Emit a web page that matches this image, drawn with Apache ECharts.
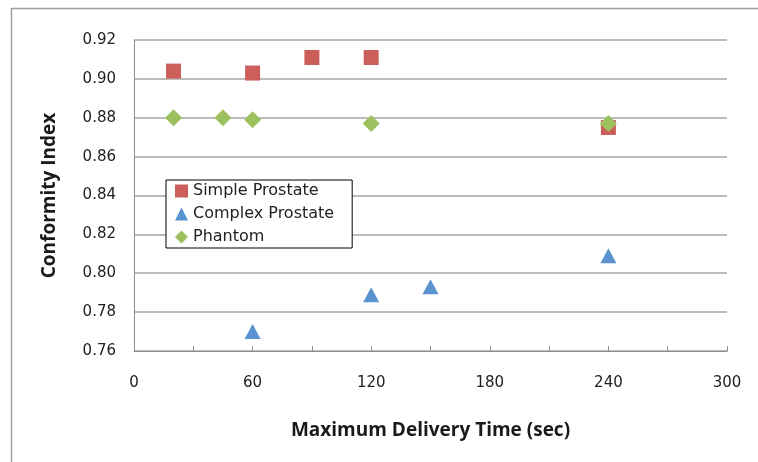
<!DOCTYPE html>
<html>
<head>
<meta charset="utf-8">
<script src="https://cdn.jsdelivr.net/npm/echarts@6/dist/echarts.min.js"></script>
<style>
  html, body { margin: 0; padding: 0; background: #fff; }
  #chart { width: 758px; height: 462px; }
</style>
</head>
<body>
<div id="chart"></div>
<script>
// Conformity index versus maximum delivery time, one series per plan type
const simpleProstateTimes  = [20, 60, 90, 120, 240];
const simpleProstateCI     = [0.904, 0.903, 0.911, 0.911, 0.875];

const complexProstateTimes = [60, 120, 150, 240];
const complexProstateCI    = [0.770, 0.789, 0.793, 0.809];

const phantomTimes         = [20, 45, 60, 120, 240];
const phantomCI            = [0.880, 0.880, 0.879, 0.877, 0.877];

const seriesNames = ['Simple Prostate', 'Complex Prostate', 'Phantom'];
const yTicks = [0.76, 0.78, 0.80, 0.82, 0.84, 0.86, 0.88, 0.90, 0.92];
const xLabelStep = 60;

const pairs = (xs, ys) => xs.map((x, i) => [x, ys[i]]);

const colors = ['#CC5F5A', '#5A93CF', '#9DC05E'];
const symbols = ['rect', 'triangle', 'diamond'];
const symbolSizes = [[15, 15], [16, 15], [17, 17]];

const chart = echarts.init(document.getElementById('chart'), null, { renderer: 'canvas' });

chart.setOption({
  animation: false,
  backgroundColor: '#ffffff',
  graphic: [{
    type: 'rect',
    shape: { x: 11.5, y: 8.5, width: 900, height: 600 },
    style: { fill: 'none', stroke: '#A0A0A0', lineWidth: 1.5 },
    silent: true,
    z: -1
  }],
  grid: { left: 134, top: 40, right: 31, bottom: 111, containLabel: false },
  legend: {
    orient: 'vertical',
    left: 166,
    top: 180,
    backgroundColor: '#ffffff',
    borderColor: '#000000',
    borderWidth: 1,
    borderRadius: 0,
    padding: [3, 18, 3, 9],
    itemGap: 7,
    itemWidth: 13,
    itemHeight: 13,
    textStyle: { fontFamily: 'DejaVu Sans', fontSize: 16, color: '#222', lineHeight: 16 },
    data: seriesNames.map((n, i) => ({ name: n, icon: symbols[i] }))
  },
  xAxis: {
    type: 'value',
    min: 0,
    max: 300,
    interval: 30,
    name: 'Maximum Delivery Time (sec)',
    nameLocation: 'middle',
    nameGap: 70,
    nameTextStyle: { fontFamily: 'Open Sans', fontWeight: 'bold', fontSize: 19, color: '#1a1a1a' },
    axisLine: { show: true, lineStyle: { color: '#8C8C8C', width: 1 } },
    axisTick: { show: true, inside: true, length: 5, lineStyle: { color: '#8C8C8C' } },
    axisLabel: {
      margin: 25,
      fontFamily: 'DejaVu Sans',
      fontSize: 15,
      color: '#222',
      formatter: v => (v % xLabelStep === 0 ? String(v) : '')
    },
    splitLine: { show: false }
  },
  yAxis: {
    type: 'value',
    min: yTicks[0],
    max: yTicks[yTicks.length - 1],
    interval: 0.02,
    name: 'Conformity Index',
    nameLocation: 'middle',
    nameGap: 75,
    nameRotate: 90,
    nameTextStyle: { fontFamily: 'Open Sans', fontWeight: 'bold', fontSize: 19, color: '#1a1a1a' },
    axisLine: { show: true, lineStyle: { color: '#8C8C8C', width: 1 } },
    axisTick: { show: false },
    axisLabel: {
      margin: 18,
      fontFamily: 'DejaVu Sans',
      fontSize: 15,
      color: '#222',
      formatter: v => v.toFixed(2)
    },
    splitLine: { show: true, lineStyle: { color: '#A6A6A6', width: 1.5 } }
  },
  series: [
    { name: seriesNames[0], data: pairs(simpleProstateTimes, simpleProstateCI) },
    { name: seriesNames[1], data: pairs(complexProstateTimes, complexProstateCI) },
    { name: seriesNames[2], data: pairs(phantomTimes, phantomCI) }
  ].map((s, i) => ({
    type: 'scatter',
    name: s.name,
    data: s.data,
    symbol: symbols[i],
    symbolSize: symbolSizes[i],
    itemStyle: { color: colors[i], opacity: 1 },
    z: 2 + i
  }))
});
</script>
</body>
</html>
